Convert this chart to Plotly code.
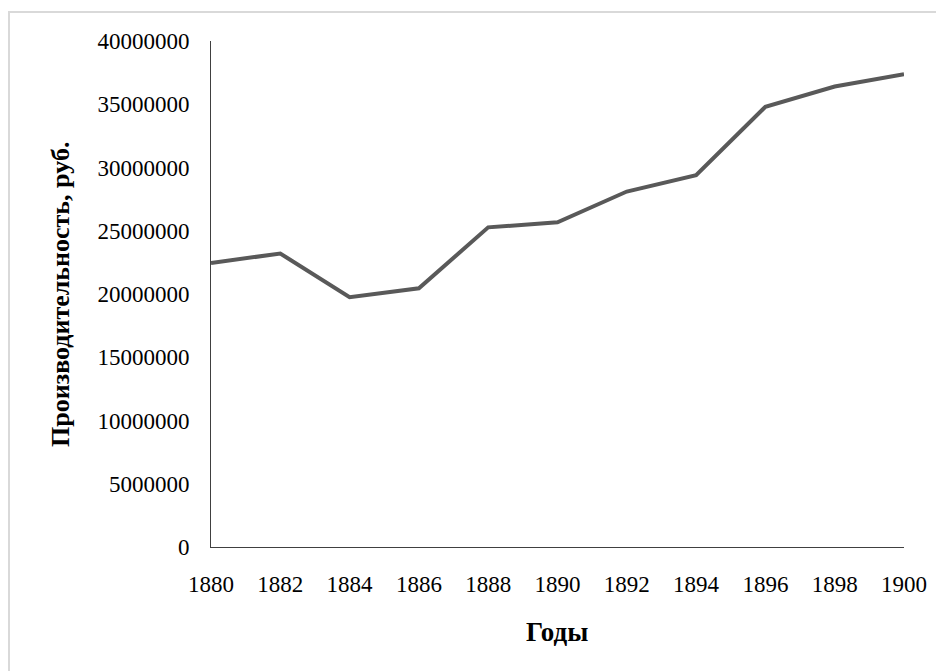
import plotly.graph_objects as go

years = [1880, 1882, 1884, 1886, 1888, 1890, 1892, 1894, 1896, 1898, 1900]
values = [22450000, 23200000, 19750000, 20450000, 25270000, 25670000,
          28100000, 29400000, 34800000, 36400000, 37370000]
x_ticks = [1880, 1882, 1884, 1886, 1888, 1890, 1892, 1894, 1896, 1898, 1900]
y_ticks = [0, 5000000, 10000000, 15000000, 20000000, 25000000,
           30000000, 35000000, 40000000]
x_title = "Годы"
y_title = "Производительность, руб."

FONT = "Liberation Serif"

fig = go.Figure()
fig.add_trace(go.Scatter(
    x=years, y=values, mode="lines",
    line=dict(color="#595959", width=4),
    showlegend=False, hoverinfo="x+y",
))

fig.update_layout(
    width=936, height=663,
    margin=dict(l=203, r=40, t=33, b=124),
    paper_bgcolor="white", plot_bgcolor="white",
    font=dict(family=FONT, color="#000000", size=23),
    xaxis=dict(
        range=[1880, 1900], tickvals=x_ticks, ticktext=[str(t) for t in x_ticks],
        showgrid=False, zeroline=False, showline=True, linecolor="#404040",
        linewidth=1, ticks="", ticklabelstandoff=16,
        tickfont=dict(family=FONT, size=23),
    ),
    yaxis=dict(
        range=[0, 40000000], tickvals=y_ticks, tickformat="d",
        showgrid=False, zeroline=False, showline=True, linecolor="#404040",
        linewidth=1, ticks="", ticklabelstandoff=16,
        tickfont=dict(family=FONT, size=23),
    ),
    shapes=[dict(
        type="rect", xref="paper", yref="paper",
        x0=-0.2915, x1=1.08, y0=-0.28, y1=1.0573,
        line=dict(color="#d9d9d9", width=2), fillcolor="rgba(0,0,0,0)",
        layer="below",
    )],
    annotations=[
        dict(text=f"<b>{x_title}</b>", xref="paper", yref="paper",
             x=0.4993, y=-0.168, showarrow=False,
             font=dict(family=FONT, size=27), xanchor="center", yanchor="middle"),
        dict(text=f"<b>{y_title}</b>", xref="paper", yref="paper",
             x=-0.218, y=0.5, showarrow=False, textangle=-90,
             font=dict(family=FONT, size=26), xanchor="center", yanchor="middle"),
    ],
)

fig.write_html("out.html")
